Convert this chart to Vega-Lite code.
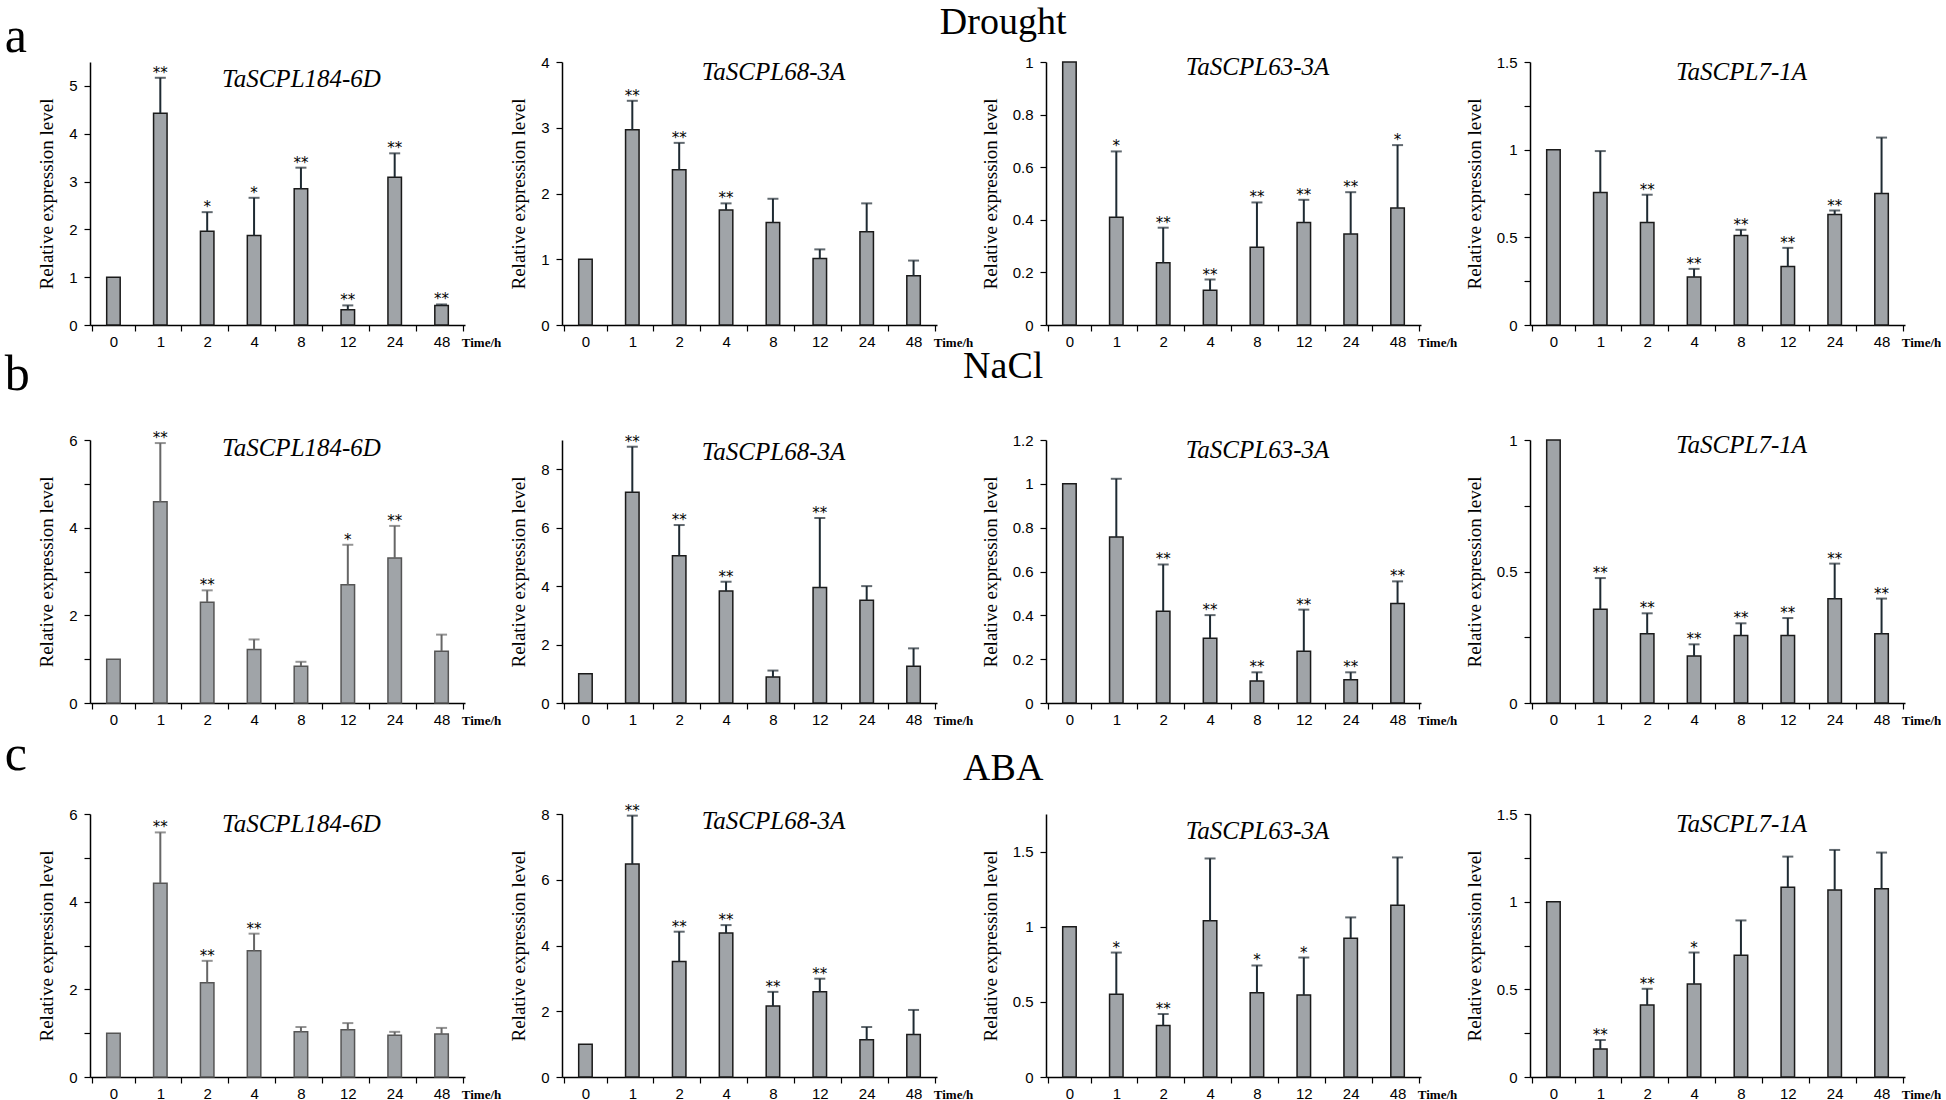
{
  "$schema": "https://vega.github.io/schema/vega-lite/v6.json",
  "background": "white",
  "padding": {"left": 4, "top": 4, "right": 0, "bottom": 0},
  "config": {
    "view": {"stroke": null},
    "font": "Liberation Sans",
    "axis": {"domainColor": "#000", "tickColor": "#000", "labelColor": "#000", "titleColor": "#000", "domainWidth": 1.5, "tickWidth": 1.2, "grid": false},
    "axisX": {"labelAngle": 0, "labelFontSize": 15, "tickSize": 6, "labelPadding": 3, "tickBand": "extent", "titleFont": "Liberation Serif", "titleFontWeight": "bold", "titleFontSize": 13, "titleX": 391, "titleY": 21, "titleAlign": "center", "titleBaseline": "alphabetic"},
    "axisY": {"labelFontSize": 15, "tickSize": 6, "labelPadding": 7, "titleFont": "Liberation Serif", "titleFontSize": 19, "titleFontWeight": "normal", "titlePadding": 12},
    "title": {"font": "Liberation Serif", "fontStyle": "italic", "fontSize": 25, "fontWeight": "normal", "color": "#000", "offset": -30, "dx": 24},
    "bar": {"fill": "#a0a4a8", "stroke": "#1a1a1a", "strokeWidth": 1.5},
    "rule": {"color": "#1e2a32", "strokeWidth": 2},
    "text": {"fontSize": 15, "dy": -5, "baseline": "middle", "font": "DejaVu Sans", "color": "#000"}
  },
  "datasets": {
    "d184": [
      {"t": "0", "v": 1, "hi": 1, "s": ""},
      {"t": "1", "v": 4.43, "hi": 5.17, "s": "**"},
      {"t": "2", "v": 1.96, "hi": 2.36, "s": "*"},
      {"t": "4", "v": 1.87, "hi": 2.66, "s": "*"},
      {"t": "8", "v": 2.85, "hi": 3.29, "s": "**"},
      {"t": "12", "v": 0.32, "hi": 0.41, "s": "**"},
      {"t": "24", "v": 3.09, "hi": 3.59, "s": "**"},
      {"t": "48", "v": 0.41, "hi": 0.43, "s": "**"}
    ],
    "d68": [
      {"t": "0", "v": 1, "hi": 1, "s": ""},
      {"t": "1", "v": 2.97, "hi": 3.41, "s": "**"},
      {"t": "2", "v": 2.36, "hi": 2.77, "s": "**"},
      {"t": "4", "v": 1.75, "hi": 1.85, "s": "**"},
      {"t": "8", "v": 1.56, "hi": 1.92, "s": ""},
      {"t": "12", "v": 1.01, "hi": 1.15, "s": ""},
      {"t": "24", "v": 1.42, "hi": 1.85, "s": ""},
      {"t": "48", "v": 0.75, "hi": 0.98, "s": ""}
    ],
    "d63": [
      {"t": "0", "v": 1, "hi": 1, "s": ""},
      {"t": "1", "v": 0.41, "hi": 0.66, "s": "*"},
      {"t": "2", "v": 0.237, "hi": 0.37, "s": "**"},
      {"t": "4", "v": 0.132, "hi": 0.173, "s": "**"},
      {"t": "8", "v": 0.296, "hi": 0.466, "s": "**"},
      {"t": "12", "v": 0.39, "hi": 0.476, "s": "**"},
      {"t": "24", "v": 0.346, "hi": 0.505, "s": "**"},
      {"t": "48", "v": 0.445, "hi": 0.684, "s": "*"}
    ],
    "d7": [
      {"t": "0", "v": 1, "hi": 1, "s": ""},
      {"t": "1", "v": 0.756, "hi": 0.992, "s": ""},
      {"t": "2", "v": 0.585, "hi": 0.743, "s": "**"},
      {"t": "4", "v": 0.274, "hi": 0.32, "s": "**"},
      {"t": "8", "v": 0.51, "hi": 0.543, "s": "**"},
      {"t": "12", "v": 0.333, "hi": 0.44, "s": "**"},
      {"t": "24", "v": 0.63, "hi": 0.653, "s": "**"},
      {"t": "48", "v": 0.75, "hi": 1.069, "s": ""}
    ],
    "n184": [
      {"t": "0", "v": 1, "hi": 1, "s": ""},
      {"t": "1", "v": 4.59, "hi": 5.93, "s": "**"},
      {"t": "2", "v": 2.3, "hi": 2.57, "s": "**"},
      {"t": "4", "v": 1.22, "hi": 1.45, "s": ""},
      {"t": "8", "v": 0.84, "hi": 0.94, "s": ""},
      {"t": "12", "v": 2.7, "hi": 3.61, "s": "*"},
      {"t": "24", "v": 3.31, "hi": 4.04, "s": "**"},
      {"t": "48", "v": 1.18, "hi": 1.56, "s": ""}
    ],
    "n68": [
      {"t": "0", "v": 1, "hi": 1, "s": ""},
      {"t": "1", "v": 7.21, "hi": 8.77, "s": "**"},
      {"t": "2", "v": 5.04, "hi": 6.09, "s": "**"},
      {"t": "4", "v": 3.83, "hi": 4.15, "s": "**"},
      {"t": "8", "v": 0.89, "hi": 1.11, "s": ""},
      {"t": "12", "v": 3.95, "hi": 6.33, "s": "**"},
      {"t": "24", "v": 3.52, "hi": 4.0, "s": ""},
      {"t": "48", "v": 1.26, "hi": 1.87, "s": ""}
    ],
    "n63": [
      {"t": "0", "v": 1, "hi": 1, "s": ""},
      {"t": "1", "v": 0.757, "hi": 1.023, "s": ""},
      {"t": "2", "v": 0.419, "hi": 0.632, "s": "**"},
      {"t": "4", "v": 0.296, "hi": 0.401, "s": "**"},
      {"t": "8", "v": 0.1, "hi": 0.14, "s": "**"},
      {"t": "12", "v": 0.236, "hi": 0.426, "s": "**"},
      {"t": "24", "v": 0.106, "hi": 0.14, "s": "**"},
      {"t": "48", "v": 0.454, "hi": 0.555, "s": "**"}
    ],
    "n7": [
      {"t": "0", "v": 1, "hi": 1, "s": ""},
      {"t": "1", "v": 0.356, "hi": 0.475, "s": "**"},
      {"t": "2", "v": 0.263, "hi": 0.341, "s": "**"},
      {"t": "4", "v": 0.179, "hi": 0.223, "s": "**"},
      {"t": "8", "v": 0.257, "hi": 0.303, "s": "**"},
      {"t": "12", "v": 0.257, "hi": 0.323, "s": "**"},
      {"t": "24", "v": 0.396, "hi": 0.53, "s": "**"},
      {"t": "48", "v": 0.263, "hi": 0.397, "s": "**"}
    ],
    "a184": [
      {"t": "0", "v": 1, "hi": 1, "s": ""},
      {"t": "1", "v": 4.42, "hi": 5.58, "s": "**"},
      {"t": "2", "v": 2.15, "hi": 2.65, "s": "**"},
      {"t": "4", "v": 2.88, "hi": 3.27, "s": "**"},
      {"t": "8", "v": 1.03, "hi": 1.14, "s": ""},
      {"t": "12", "v": 1.08, "hi": 1.23, "s": ""},
      {"t": "24", "v": 0.95, "hi": 1.03, "s": ""},
      {"t": "48", "v": 0.98, "hi": 1.12, "s": ""}
    ],
    "a68": [
      {"t": "0", "v": 1, "hi": 1, "s": ""},
      {"t": "1", "v": 6.48, "hi": 7.95, "s": "**"},
      {"t": "2", "v": 3.51, "hi": 4.42, "s": "**"},
      {"t": "4", "v": 4.38, "hi": 4.62, "s": "**"},
      {"t": "8", "v": 2.16, "hi": 2.59, "s": "**"},
      {"t": "12", "v": 2.59, "hi": 2.99, "s": "**"},
      {"t": "24", "v": 1.13, "hi": 1.52, "s": ""},
      {"t": "48", "v": 1.29, "hi": 2.04, "s": ""}
    ],
    "a63": [
      {"t": "0", "v": 1, "hi": 1, "s": ""},
      {"t": "1", "v": 0.55, "hi": 0.828, "s": "*"},
      {"t": "2", "v": 0.343, "hi": 0.419, "s": "**"},
      {"t": "4", "v": 1.04, "hi": 1.454, "s": ""},
      {"t": "8", "v": 0.561, "hi": 0.742, "s": "*"},
      {"t": "12", "v": 0.546, "hi": 0.795, "s": "*"},
      {"t": "24", "v": 0.924, "hi": 1.062, "s": ""},
      {"t": "48", "v": 1.143, "hi": 1.461, "s": ""}
    ],
    "a7": [
      {"t": "0", "v": 1, "hi": 1, "s": ""},
      {"t": "1", "v": 0.16, "hi": 0.211, "s": "**"},
      {"t": "2", "v": 0.411, "hi": 0.503, "s": "**"},
      {"t": "4", "v": 0.531, "hi": 0.71, "s": "*"},
      {"t": "8", "v": 0.695, "hi": 0.893, "s": ""},
      {"t": "12", "v": 1.082, "hi": 1.257, "s": ""},
      {"t": "24", "v": 1.067, "hi": 1.295, "s": ""},
      {"t": "48", "v": 1.074, "hi": 1.28, "s": ""}
    ]
  },
  "spacing": -1,
  "vconcat": [
    {
      "title": {"text": "a", "anchor": "start", "fontSize": 50, "fontStyle": "normal", "offset": -58, "dx": -33},
      "vconcat": [
        {
          "title": {"text": "Drought", "anchor": "middle", "fontSize": 38, "fontStyle": "normal", "offset": 8, "dx": 14},
          "spacing": 8,
          "hconcat": [
            {
              "width": 375, "height": 263,
              "title": {"text": "TaSCPL184-6D"},
              "data": {"name": "d184"},
              "encoding": {"x": {"field": "t", "type": "ordinal", "sort": null, "title": "Time/h"}},
              "layer": [
                {"mark": {"type": "bar", "width": {"band": 0.32}}, "encoding": {"y": {"field": "v", "type": "quantitative", "title": "Relative expression level", "scale": {"domain": [0, 5.5], "nice": false}, "axis": {"values": [0, 0.5, 1, 1.5, 2, 2.5, 3, 3.5, 4, 4.5, 5], "labelExpr": "datum.value % 1 === 0 ? format(datum.value, '~g') : ''"}}}},
                {"transform": [{"filter": "datum.hi > datum.v"}], "mark": {"type": "rule"}, "encoding": {"y": {"field": "v", "type": "quantitative"}, "y2": {"field": "hi"}}},
                {"transform": [{"filter": "datum.hi > datum.v"}], "mark": {"type": "tick", "color": "#1e2a32", "thickness": 2, "size": 11}, "encoding": {"y": {"field": "hi", "type": "quantitative"}}},
                {"mark": {"type": "text"}, "encoding": {"y": {"field": "hi", "type": "quantitative"}, "text": {"field": "s"}}}
              ]
            },
            {
              "width": 375, "height": 263,
              "title": {"text": "TaSCPL68-3A"},
              "data": {"name": "d68"},
              "encoding": {"x": {"field": "t", "type": "ordinal", "sort": null, "title": "Time/h"}},
              "layer": [
                {"mark": {"type": "bar", "width": {"band": 0.32}}, "encoding": {"y": {"field": "v", "type": "quantitative", "title": "Relative expression level", "scale": {"domain": [0, 4], "nice": false}, "axis": {"values": [0, 0.5, 1, 1.5, 2, 2.5, 3, 3.5, 4], "labelExpr": "datum.value % 1 === 0 ? format(datum.value, '~g') : ''"}}}},
                {"transform": [{"filter": "datum.hi > datum.v"}], "mark": {"type": "rule"}, "encoding": {"y": {"field": "v", "type": "quantitative"}, "y2": {"field": "hi"}}},
                {"transform": [{"filter": "datum.hi > datum.v"}], "mark": {"type": "tick", "color": "#1e2a32", "thickness": 2, "size": 11}, "encoding": {"y": {"field": "hi", "type": "quantitative"}}},
                {"mark": {"type": "text"}, "encoding": {"y": {"field": "hi", "type": "quantitative"}, "text": {"field": "s"}}}
              ]
            },
            {
              "width": 375, "height": 263,
              "title": {"text": "TaSCPL63-3A"},
              "data": {"name": "d63"},
              "encoding": {"x": {"field": "t", "type": "ordinal", "sort": null, "title": "Time/h"}},
              "layer": [
                {"mark": {"type": "bar", "width": {"band": 0.32}}, "encoding": {"y": {"field": "v", "type": "quantitative", "title": "Relative expression level", "scale": {"domain": [0, 1], "nice": false}, "axis": {"values": [0, 0.1, 0.2, 0.3, 0.4, 0.5, 0.6, 0.7, 0.8, 0.9, 1], "labelExpr": "round(datum.value * 10) % 2 === 0 ? format(datum.value, '~g') : ''"}}}},
                {"transform": [{"filter": "datum.hi > datum.v"}], "mark": {"type": "rule"}, "encoding": {"y": {"field": "v", "type": "quantitative"}, "y2": {"field": "hi"}}},
                {"transform": [{"filter": "datum.hi > datum.v"}], "mark": {"type": "tick", "color": "#1e2a32", "thickness": 2, "size": 11}, "encoding": {"y": {"field": "hi", "type": "quantitative"}}},
                {"mark": {"type": "text"}, "encoding": {"y": {"field": "hi", "type": "quantitative"}, "text": {"field": "s"}}}
              ]
            },
            {
              "width": 375, "height": 263,
              "title": {"text": "TaSCPL7-1A"},
              "data": {"name": "d7"},
              "encoding": {"x": {"field": "t", "type": "ordinal", "sort": null, "title": "Time/h"}},
              "layer": [
                {"mark": {"type": "bar", "width": {"band": 0.32}}, "encoding": {"y": {"field": "v", "type": "quantitative", "title": "Relative expression level", "scale": {"domain": [0, 1.5], "nice": false}, "axis": {"values": [0, 0.25, 0.5, 0.75, 1, 1.25, 1.5], "labelExpr": "round(datum.value * 4) % 2 === 0 ? format(datum.value, '~g') : ''"}}}},
                {"transform": [{"filter": "datum.hi > datum.v"}], "mark": {"type": "rule"}, "encoding": {"y": {"field": "v", "type": "quantitative"}, "y2": {"field": "hi"}}},
                {"transform": [{"filter": "datum.hi > datum.v"}], "mark": {"type": "tick", "color": "#1e2a32", "thickness": 2, "size": 11}, "encoding": {"y": {"field": "hi", "type": "quantitative"}}},
                {"mark": {"type": "text"}, "encoding": {"y": {"field": "hi", "type": "quantitative"}, "text": {"field": "s"}}}
              ]
            }
          ]
        }
      ]
    },
    {
      "spacing": 2,
      "vconcat": [
        {
          "title": {"text": "b", "anchor": "start", "fontSize": 50, "fontStyle": "normal", "offset": -52, "dx": -33},
          "vconcat": [
            {
              "title": {"text": "NaCl", "anchor": "middle", "fontSize": 38, "fontStyle": "normal", "offset": 42, "dx": 14},
              "spacing": 8,
              "hconcat": [
                {
                  "width": 375, "height": 263,
                  "title": {"text": "TaSCPL184-6D"},
                  "data": {"name": "n184"},
                  "encoding": {"x": {"field": "t", "type": "ordinal", "sort": null, "title": "Time/h"}},
                  "layer": [
                    {"mark": {"type": "bar", "width": {"band": 0.32}, "stroke": "#555"}, "encoding": {"y": {"field": "v", "type": "quantitative", "title": "Relative expression level", "scale": {"domain": [0, 6], "nice": false}, "axis": {"values": [0, 1, 2, 3, 4, 5, 6], "labelExpr": "datum.value % 2 === 0 ? format(datum.value, '~g') : ''"}}}},
                    {"transform": [{"filter": "datum.hi > datum.v"}], "mark": {"type": "rule", "color": "#666"}, "encoding": {"y": {"field": "v", "type": "quantitative"}, "y2": {"field": "hi"}}},
                    {"transform": [{"filter": "datum.hi > datum.v"}], "mark": {"type": "tick", "color": "#666", "thickness": 2, "size": 11}, "encoding": {"y": {"field": "hi", "type": "quantitative"}}},
                    {"mark": {"type": "text"}, "encoding": {"y": {"field": "hi", "type": "quantitative"}, "text": {"field": "s"}}}
                  ]
                },
                {
                  "width": 375, "height": 263,
                  "title": {"text": "TaSCPL68-3A"},
                  "data": {"name": "n68"},
                  "encoding": {"x": {"field": "t", "type": "ordinal", "sort": null, "title": "Time/h"}},
                  "layer": [
                    {"mark": {"type": "bar", "width": {"band": 0.32}}, "encoding": {"y": {"field": "v", "type": "quantitative", "title": "Relative expression level", "scale": {"domain": [0, 9], "nice": false}, "axis": {"values": [0, 1, 2, 3, 4, 5, 6, 7, 8, 9], "labelExpr": "datum.value % 2 === 0 ? format(datum.value, '~g') : ''"}}}},
                    {"transform": [{"filter": "datum.hi > datum.v"}], "mark": {"type": "rule"}, "encoding": {"y": {"field": "v", "type": "quantitative"}, "y2": {"field": "hi"}}},
                    {"transform": [{"filter": "datum.hi > datum.v"}], "mark": {"type": "tick", "color": "#1e2a32", "thickness": 2, "size": 11}, "encoding": {"y": {"field": "hi", "type": "quantitative"}}},
                    {"mark": {"type": "text"}, "encoding": {"y": {"field": "hi", "type": "quantitative"}, "text": {"field": "s"}}}
                  ]
                },
                {
                  "width": 375, "height": 263,
                  "title": {"text": "TaSCPL63-3A"},
                  "data": {"name": "n63"},
                  "encoding": {"x": {"field": "t", "type": "ordinal", "sort": null, "title": "Time/h"}},
                  "layer": [
                    {"mark": {"type": "bar", "width": {"band": 0.32}}, "encoding": {"y": {"field": "v", "type": "quantitative", "title": "Relative expression level", "scale": {"domain": [0, 1.2], "nice": false}, "axis": {"values": [0, 0.1, 0.2, 0.3, 0.4, 0.5, 0.6, 0.7, 0.8, 0.9, 1, 1.1, 1.2], "labelExpr": "round(datum.value * 10) % 2 === 0 ? format(datum.value, '~g') : ''"}}}},
                    {"transform": [{"filter": "datum.hi > datum.v"}], "mark": {"type": "rule"}, "encoding": {"y": {"field": "v", "type": "quantitative"}, "y2": {"field": "hi"}}},
                    {"transform": [{"filter": "datum.hi > datum.v"}], "mark": {"type": "tick", "color": "#1e2a32", "thickness": 2, "size": 11}, "encoding": {"y": {"field": "hi", "type": "quantitative"}}},
                    {"mark": {"type": "text"}, "encoding": {"y": {"field": "hi", "type": "quantitative"}, "text": {"field": "s"}}}
                  ]
                },
                {
                  "width": 375, "height": 263,
                  "title": {"text": "TaSCPL7-1A"},
                  "data": {"name": "n7"},
                  "encoding": {"x": {"field": "t", "type": "ordinal", "sort": null, "title": "Time/h"}},
                  "layer": [
                    {"mark": {"type": "bar", "width": {"band": 0.32}}, "encoding": {"y": {"field": "v", "type": "quantitative", "title": "Relative expression level", "scale": {"domain": [0, 1], "nice": false}, "axis": {"values": [0, 0.25, 0.5, 0.75, 1], "labelExpr": "round(datum.value * 4) % 2 === 0 ? format(datum.value, '~g') : ''"}}}},
                    {"transform": [{"filter": "datum.hi > datum.v"}], "mark": {"type": "rule"}, "encoding": {"y": {"field": "v", "type": "quantitative"}, "y2": {"field": "hi"}}},
                    {"transform": [{"filter": "datum.hi > datum.v"}], "mark": {"type": "tick", "color": "#1e2a32", "thickness": 2, "size": 11}, "encoding": {"y": {"field": "hi", "type": "quantitative"}}},
                    {"mark": {"type": "text"}, "encoding": {"y": {"field": "hi", "type": "quantitative"}, "text": {"field": "s"}}}
                  ]
                }
              ]
            }
          ]
        },
        {
          "title": {"text": "c", "anchor": "start", "fontSize": 50, "fontStyle": "normal", "offset": -30, "dx": -33},
          "vconcat": [
            {
              "title": {"text": "ABA", "anchor": "middle", "fontSize": 38, "fontStyle": "normal", "offset": 16, "dx": 14},
              "spacing": 8,
              "hconcat": [
                {
                  "width": 375, "height": 263,
                  "title": {"text": "TaSCPL184-6D"},
                  "data": {"name": "a184"},
                  "encoding": {"x": {"field": "t", "type": "ordinal", "sort": null, "title": "Time/h"}},
                  "layer": [
                    {"mark": {"type": "bar", "width": {"band": 0.32}, "stroke": "#555"}, "encoding": {"y": {"field": "v", "type": "quantitative", "title": "Relative expression level", "scale": {"domain": [0, 6], "nice": false}, "axis": {"values": [0, 1, 2, 3, 4, 5, 6], "labelExpr": "datum.value % 2 === 0 ? format(datum.value, '~g') : ''"}}}},
                    {"transform": [{"filter": "datum.hi > datum.v"}], "mark": {"type": "rule", "color": "#666"}, "encoding": {"y": {"field": "v", "type": "quantitative"}, "y2": {"field": "hi"}}},
                    {"transform": [{"filter": "datum.hi > datum.v"}], "mark": {"type": "tick", "color": "#666", "thickness": 2, "size": 11}, "encoding": {"y": {"field": "hi", "type": "quantitative"}}},
                    {"mark": {"type": "text"}, "encoding": {"y": {"field": "hi", "type": "quantitative"}, "text": {"field": "s"}}}
                  ]
                },
                {
                  "width": 375, "height": 263,
                  "title": {"text": "TaSCPL68-3A"},
                  "data": {"name": "a68"},
                  "encoding": {"x": {"field": "t", "type": "ordinal", "sort": null, "title": "Time/h"}},
                  "layer": [
                    {"mark": {"type": "bar", "width": {"band": 0.32}}, "encoding": {"y": {"field": "v", "type": "quantitative", "title": "Relative expression level", "scale": {"domain": [0, 8], "nice": false}, "axis": {"values": [0, 1, 2, 3, 4, 5, 6, 7, 8], "labelExpr": "datum.value % 2 === 0 ? format(datum.value, '~g') : ''"}}}},
                    {"transform": [{"filter": "datum.hi > datum.v"}], "mark": {"type": "rule"}, "encoding": {"y": {"field": "v", "type": "quantitative"}, "y2": {"field": "hi"}}},
                    {"transform": [{"filter": "datum.hi > datum.v"}], "mark": {"type": "tick", "color": "#1e2a32", "thickness": 2, "size": 11}, "encoding": {"y": {"field": "hi", "type": "quantitative"}}},
                    {"mark": {"type": "text"}, "encoding": {"y": {"field": "hi", "type": "quantitative"}, "text": {"field": "s"}}}
                  ]
                },
                {
                  "width": 375, "height": 263,
                  "title": {"text": "TaSCPL63-3A"},
                  "data": {"name": "a63"},
                  "encoding": {"x": {"field": "t", "type": "ordinal", "sort": null, "title": "Time/h"}},
                  "layer": [
                    {"mark": {"type": "bar", "width": {"band": 0.32}}, "encoding": {"y": {"field": "v", "type": "quantitative", "title": "Relative expression level", "scale": {"domain": [0, 1.75], "nice": false}, "axis": {"values": [0, 0.25, 0.5, 0.75, 1, 1.25, 1.5, 1.75], "labelExpr": "round(datum.value * 4) % 2 === 0 ? format(datum.value, '~g') : ''"}}}},
                    {"transform": [{"filter": "datum.hi > datum.v"}], "mark": {"type": "rule"}, "encoding": {"y": {"field": "v", "type": "quantitative"}, "y2": {"field": "hi"}}},
                    {"transform": [{"filter": "datum.hi > datum.v"}], "mark": {"type": "tick", "color": "#1e2a32", "thickness": 2, "size": 11}, "encoding": {"y": {"field": "hi", "type": "quantitative"}}},
                    {"mark": {"type": "text"}, "encoding": {"y": {"field": "hi", "type": "quantitative"}, "text": {"field": "s"}}}
                  ]
                },
                {
                  "width": 375, "height": 263,
                  "title": {"text": "TaSCPL7-1A"},
                  "data": {"name": "a7"},
                  "encoding": {"x": {"field": "t", "type": "ordinal", "sort": null, "title": "Time/h"}},
                  "layer": [
                    {"mark": {"type": "bar", "width": {"band": 0.32}}, "encoding": {"y": {"field": "v", "type": "quantitative", "title": "Relative expression level", "scale": {"domain": [0, 1.5], "nice": false}, "axis": {"values": [0, 0.25, 0.5, 0.75, 1, 1.25, 1.5], "labelExpr": "round(datum.value * 4) % 2 === 0 ? format(datum.value, '~g') : ''"}}}},
                    {"transform": [{"filter": "datum.hi > datum.v"}], "mark": {"type": "rule"}, "encoding": {"y": {"field": "v", "type": "quantitative"}, "y2": {"field": "hi"}}},
                    {"transform": [{"filter": "datum.hi > datum.v"}], "mark": {"type": "tick", "color": "#1e2a32", "thickness": 2, "size": 11}, "encoding": {"y": {"field": "hi", "type": "quantitative"}}},
                    {"mark": {"type": "text"}, "encoding": {"y": {"field": "hi", "type": "quantitative"}, "text": {"field": "s"}}}
                  ]
                }
              ]
            }
          ]
        }
      ]
    }
  ]
}
